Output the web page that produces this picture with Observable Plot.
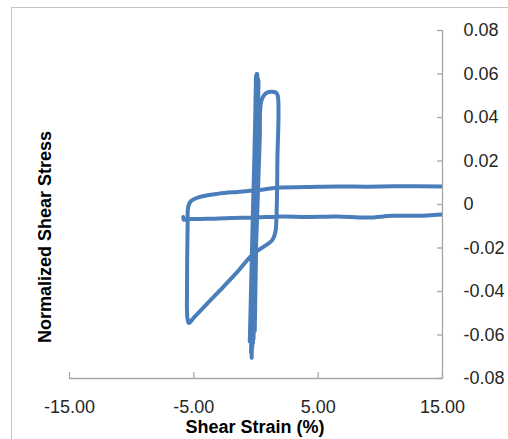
<!DOCTYPE html>
<html><head><meta charset="utf-8">
<script src="https://cdn.jsdelivr.net/npm/d3@7"></script>
<script src="https://cdn.jsdelivr.net/npm/@observablehq/plot@0.6"></script>
<style>
html,body{margin:0;padding:0;background:#fff;}
#wrap{position:relative;width:508px;height:439px;overflow:hidden;font-family:"Liberation Sans",Arial,sans-serif;}
#frame{position:absolute;left:11px;top:7px;width:700px;height:700px;border-left:1px solid #c4c4c4;border-top:1px solid #c4c4c4;}
#chart{position:absolute;left:0;top:0;}
.title{position:absolute;font-weight:bold;font-size:18px;line-height:18px;white-space:nowrap;color:#000;}
#xtitle{left:255px;top:418px;transform:translateX(-50%);}
#ytitle{left:45px;top:237px;transform:translate(-50%,-50%) rotate(-90deg);}
</style>
</head><body>
<div id="wrap">
  <div id="frame"></div>
  <div id="chart"></div>
  <div class="title" id="xtitle">Shear Strain (%)</div>
  <div class="title" id="ytitle">Normalized Shear Stress</div>
</div>
<script>
const strain = [
  0, 0.05, -0.15, 0.1, -0.25, 0.15, -0.3, 0.1, -0.4, 0.0, -0.45, 0.05, -0.35, 0.1, -0.3, 0.15, -0.2, 0.2, -0.1,
  0.1, -0.25, 0.0, -0.4, 0.05, -0.5, 0.15, -0.3, 0.1, -0.2, 0.05, -0.35,
  0.0, 0.3, 0.45, 0.9, 1.6, 1.75, 1.72, 1.65, 1.55, 1.3, 0.6, -0.2, -1.5, -2.9, -4.0, -5.0, -5.4, -5.52, -5.55, -5.5, -5.45, -5.25,
  -4.5, -3.0, -1.5, -0.5, 0.5, 1.8, 4.0, 6.5, 9.0, 12.0, 15.0, 17.0, 17.5, 17.0, 15.0, 13.0, 11.0, 9.0, 6.5, 4.0, 2.0, 0.0,
  -2.0, -4.0, -5.5, -5.8, -5.85
];
const stress = [
  0, 0.015, -0.02, 0.028, -0.033, 0.04, -0.045, 0.048, -0.055, 0.055, -0.06, 0.059, -0.0705, 0.060, -0.066, 0.058, -0.062, 0.057, -0.058,
  0.056, -0.064, 0.059, -0.068, 0.060, -0.063, 0.057, -0.065, 0.058, -0.06, 0.056, -0.062,
  -0.02, 0.03, 0.048, 0.0515, 0.0515, 0.05, 0.02, -0.005, -0.013, -0.0165, -0.0195, -0.0225, -0.031, -0.0395, -0.046, -0.052, -0.0545, -0.052, -0.04, -0.01, -0.001, 0.0015,
  0.0035, 0.005, 0.0058, 0.0063, 0.0068, 0.0078, 0.008, 0.0083, 0.0082, 0.0084, 0.0083, 0.0083, 0.002, -0.0045, -0.0046, -0.0052, -0.0052, -0.006, -0.0055, -0.0057, -0.0055, -0.006,
  -0.0062, -0.0066, -0.0067, -0.007, -0.0057
];
const xTicks = [-15, -5, 5, 15];
const yTicks = [-0.08, -0.06, -0.04, -0.02, 0, 0.02, 0.04, 0.06, 0.08];

const data = strain.map((x, i) => ({x, y: stress[i]}));
const axisColor = "#a6a6a6";
const textColor = "#262626";

const chart = Plot.plot({
  width: 508, height: 439,
  marginLeft: 69, marginRight: 66, marginTop: 30, marginBottom: 61,
  style: {fontFamily: '"Liberation Sans", Arial, sans-serif', fontSize: "18px", background: "transparent", overflow: "visible"},
  x: {domain: [-15, 15], label: null},
  y: {domain: [-0.08, 0.08], label: null},
  marks: [
    Plot.ruleY([-0.08], {stroke: axisColor, strokeWidth: 1.3}),
    Plot.ruleX([15], {stroke: axisColor, strokeWidth: 1.3}),
    Plot.axisX(xTicks, {anchor: "bottom", tickSize: 6, insetBottom: 6, tickPadding: 22,
      tickFormat: d => d.toFixed(2), stroke: axisColor, fill: textColor, strokeWidth: 1.3, label: null}),
    Plot.axisY(yTicks, {anchor: "right", tickSize: 6, insetRight: 6, tickPadding: 21,
      tickFormat: d => d === 0 ? "0" : d.toFixed(2), stroke: axisColor, fill: textColor, strokeWidth: 1.3,
      textAnchor: "start", label: null}),
    Plot.line(data, {x: "x", y: "y", stroke: "#4a7ebb", strokeWidth: 4, strokeLinejoin: "round",
      strokeLinecap: "round", curve: "catmull-rom", clip: true})
  ]
});
document.getElementById("chart").appendChild(chart);
</script>
</body></html>
